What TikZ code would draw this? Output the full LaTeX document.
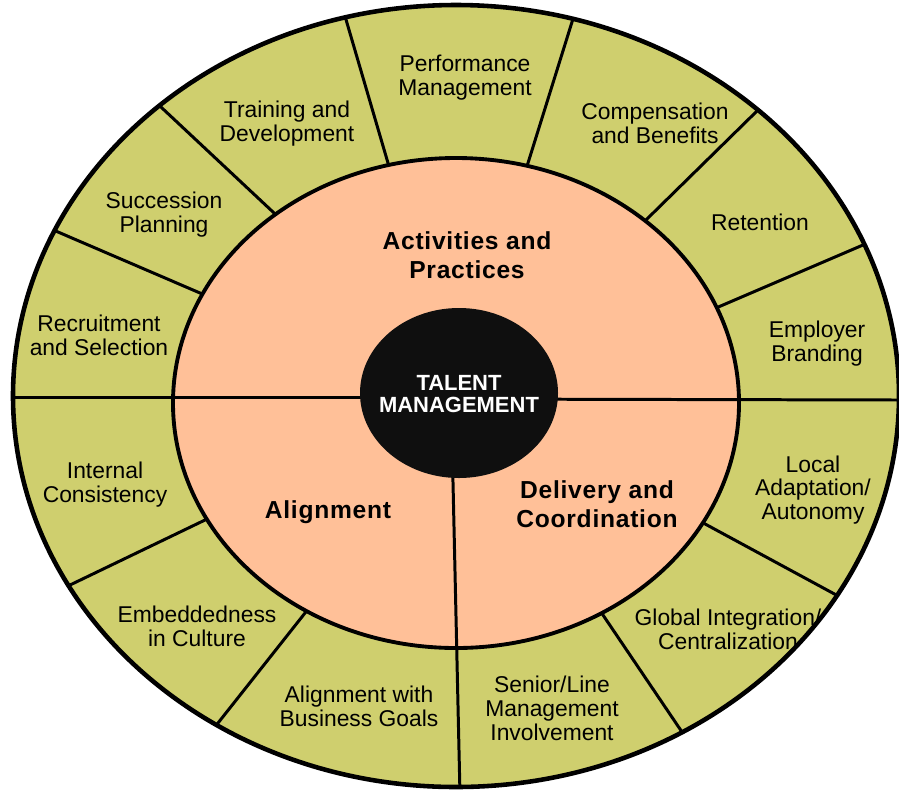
\documentclass[tikz,border=0pt]{standalone}
\usepackage{fontspec}
\setmainfont{Liberation Sans}
\newfontfamily\secfont{Liberation Sans}[LetterSpace=3]
\definecolor{ringkhaki}{RGB}{207, 207, 110}
\definecolor{corepeach}{RGB}{255, 192, 152}
\definecolor{hubblack}{RGB}{15, 15, 15}
\usetikzlibrary{positioning}

\begin{document}
\begin{tikzpicture}[
  x=0.2mm, y=-0.2mm,
  lbl/.style={align=center, inner sep=1pt, font=\fontsize{13}{13.6}\selectfont},
  sect/.style={align=center, inner sep=1pt, font=\secfont\bfseries\fontsize{14}{16.5}\selectfont},
  hubtxt/.style={align=center, inner sep=1pt, text=white, font=\bfseries\fontsize{12.5}{13}\selectfont},
  divl/.style={line width=1.7pt, shorten <=-10pt, shorten >=-10pt},
  rim/.style={line width=2.2pt},
]
  \useasboundingbox (0,0) rectangle (899,790);

  % outer ring
  \fill[ringkhaki] (456,396) ellipse [x radius=443, y radius=391];
  \begin{scope}
    \clip (456,396) ellipse [x radius=443, y radius=391];
    \foreach \xa/\ya/\xb/\yb in {200/293/58/232, 273/212/162/108, 388/163/347/23,
                                 528/163/572/22, 648/218/758/110, 723/305/863/245,
                                 205/520/70/585, 305/613/218/723,
                                 605/618/682/732, 707/525/840/597}
      \draw[divl] (\xa,\ya) -- (\xb,\yb);
  \end{scope}

  % inner ring
  \filldraw[fill=corepeach, rim] (456,403) ellipse [x radius=283, y radius=245];
  \begin{scope}
    \clip (456,396) ellipse [x radius=443, y radius=391];
    \draw[line width=1.7pt] (459,397) -- (0,397);
    \draw[line width=1.7pt] (459,399) -- (899,400);
    \draw[line width=1.7pt] (451,393) -- (460,795);
  \end{scope}
  \draw[rim, line width=2.6pt] (456,396) ellipse [x radius=443, y radius=391];

  % hub
  \fill[hubblack] (459,393) ellipse [x radius=99, y radius=85];
  \node[hubtxt] (hub) at (459,394) {TALENT\\MANAGEMENT};

  \node[sect] (act) at (467,255) {Activities and\\Practices};
  \node[sect] (aln) at (328,512) {Alignment};
  \node[sect] (del) at (597,504) {Delivery and\\Coordination};

  \node[lbl] (perf) at (465,78) {Performance\\Management};
  \node[lbl] (train) at (287,124) {Training and\\Development};
  \node[lbl] (comp) at (655,123) {Compensation\\and Benefits};
  \node[lbl] (ret) at (760,222) {Retention};
  \node[lbl] (brand) at (817,344) {Employer\\Branding};
  \node[lbl] (succ) at (164,215) {Succession\\Planning};
  \node[lbl] (recr) at (99,335) {Recruitment\\and Selection};
  \node[lbl] (cons) at (105,485) {Internal\\Consistency};
  \node[lbl] (emb) at (197,626) {Embeddedness\\in Culture};
  \node[lbl] (goals) at (359,706) {Alignment with\\Business Goals};
  \node[lbl] (senior) at (552,708) {Senior/Line\\Management\\Involvement};
  \node[lbl] (glob) at (728,629) {Global Integration/\\Centralization};
  \node[lbl] (local) at (813,490) {Local\\Adaptation/\\Autonomy};
\end{tikzpicture}
\end{document}
